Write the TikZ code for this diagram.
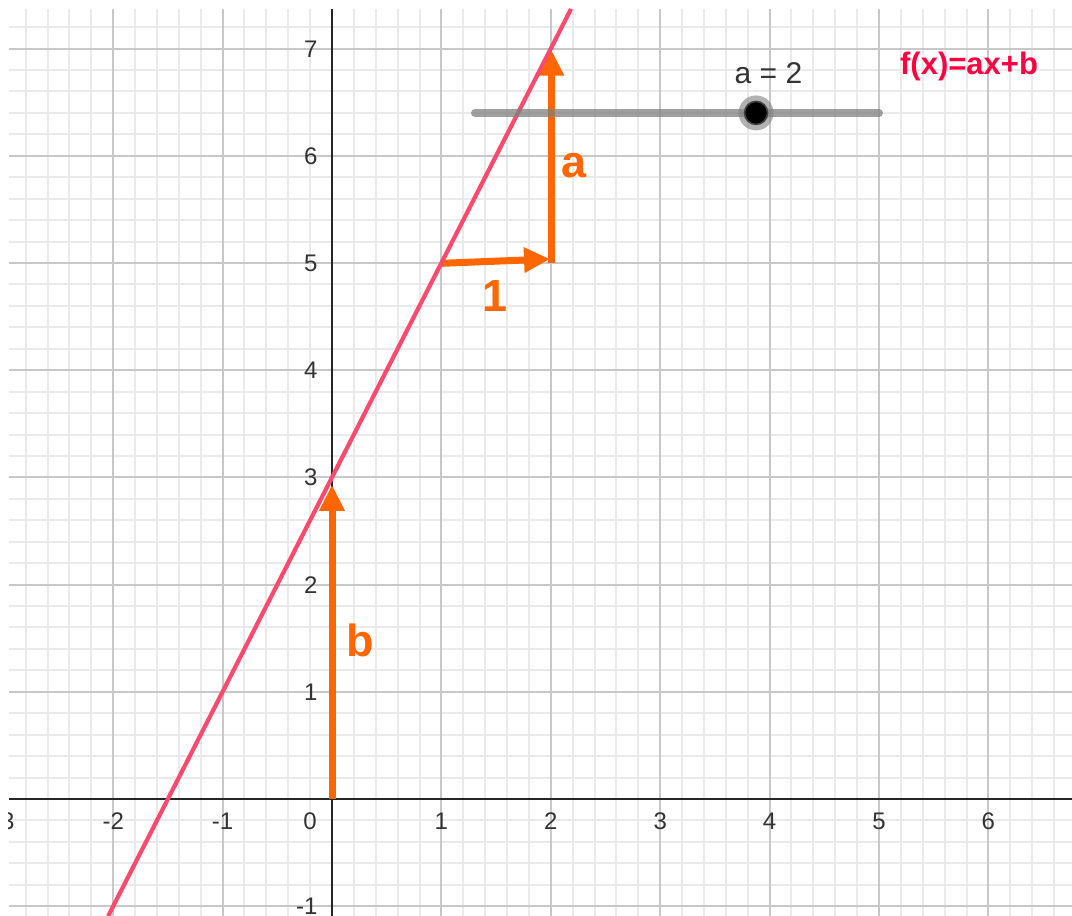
\documentclass[tikz,border=0pt]{standalone}
\usepackage{fontspec}
\setmainfont{Liberation Sans}
\usetikzlibrary{arrows.meta}
\definecolor{ggorange}{RGB}{255,102,0}
\definecolor{ggpink}{RGB}{250,75,110}
\definecolor{ggred}{RGB}{255,0,64}
\definecolor{ticktext}{RGB}{51,51,51}
\definecolor{majorgrid}{RGB}{200,200,200}
\definecolor{minorgrid}{RGB}{234,234,234}
\tikzset{
  minorline/.style={draw=minorgrid, line width=1pt},
  majorline/.style={draw=majorgrid, line width=1pt},
  axisline/.style={draw=black!85, line width=1pt},
  ticklabel/.style={text=ticktext, font=\fontsize{12}{12}\selectfont, inner sep=0pt},
  vec/.style={draw=ggorange, line width=3.5pt, -{Triangle[width=12pt,length=13pt]}},
  veclabel/.style={text=ggorange, font=\fontsize{22.5}{22.5}\selectfont\bfseries, inner sep=0pt, anchor=base},
  fline/.style={draw=ggpink, line width=2.1pt},
  sliderbar/.style={draw=gray, draw opacity=0.75, line width=4pt, line cap=round},
}
\begin{document}
\begin{tikzpicture}
\useasboundingbox (0,0) rectangle (536pt,458pt);
\fill[white] (0,0) rectangle (536pt,458pt);
\begin{scope}[shift={(166pt,58.5pt)}, x=54.7pt, y=53.6pt]
  \coordinate (BL) at (-2.9525,-1.0914);
  \coordinate (TR) at (6.764,7.3694);
  \clip (BL) rectangle (TR);
  % minor grid
  \foreach \i in {-14,...,33} {\draw[minorline] (\i/5,-1.0914) -- (\i/5,7.3694);}
  \foreach \i in {-5,...,36} {\draw[minorline] (-2.9525,\i/5) -- (6.764,\i/5);}
  % major grid
  \foreach \i in {-2,...,6} {\draw[majorline] (\i,-1.0914) -- (\i,7.3694);}
  \foreach \i in {-1,...,7} {\draw[majorline] (-2.9525,\i) -- (6.764,\i);}
  % axes
  \coordinate (XL) at (-2.9525,0);
  \coordinate (XR) at (6.764,0);
  \coordinate (YB) at (0,-1.0914);
  \coordinate (YT) at (0,7.3694);
  \draw[axisline] (XL) -- (XR);
  \draw[axisline] (YB) -- (YT);
  % tick labels
  \foreach \k in {-3,-2,-1,1,2,3,4,5,6} {\node[ticklabel, anchor=base] (xl\k) at (\k,-0.289) {\k};}
  \node[ticklabel, anchor=base] (xl0) at (-0.2,-0.289) {0};
  \foreach \k in {-1,1,2,3,4,5,6,7} {\node[ticklabel, anchor=base east] (yl\k) at (-0.13,\k-0.08) {\k};}
  % vectors
  \coordinate (O) at (0,0);
  \coordinate (Btip) at (0,2.93);
  \coordinate (P1) at (1.003,4.997);
  \coordinate (P2) at (1.993,5.037);
  \coordinate (Q1) at (2.005,4.997);
  \coordinate (Q2) at (2.005,6.99);
  \draw[vec] (O) -- (Btip);
  \draw[vec] (P1) -- (P2);
  \draw[vec] (Q1) -- (Q2);
  \node[veclabel] (lb) at (0.256,1.325) {b};
  \node[veclabel] (l1) at (1.490,4.543) {1};
  \node[veclabel] (la) at (2.212,5.793) {a};
  % line f
  \coordinate (F1) at (-2.0457,-1.0914);
  \coordinate (F2) at (2.1847,7.3694);
  \draw[fline] (F1) -- (F2);
  % slider
  \coordinate (S1) at (1.307,6.40);
  \coordinate (S2) at (5.0,6.40);
  \draw[sliderbar] (S1) -- (S2);
  \node[circle, fill=gray, fill opacity=0.6, minimum size=17.5pt, inner sep=0pt] (knobhalo) at (3.876,6.40) {};
  \node[circle, fill=black, draw=gray!50!black, line width=0.8pt, minimum size=11.5pt, inner sep=0pt] (knob) at (3.876,6.40) {};
  \node[text=ticktext, font=\fontsize{15}{15}\selectfont, anchor=base, inner sep=0pt] (alabel) at (3.99,6.676) {a = 2};
  \node[text=ggred, font=\fontsize{15.5}{15.5}\selectfont\bfseries, anchor=base, inner sep=0pt] (flabel) at (5.823,6.754) {f(x)=ax+b};
\end{scope}
\end{tikzpicture}
\end{document}
